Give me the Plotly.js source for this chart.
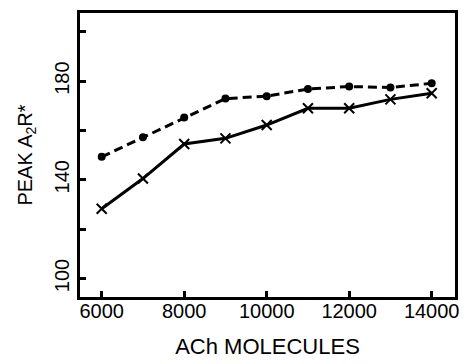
<!DOCTYPE html>
<html><head><meta charset="utf-8">
<script src="https://cdn.plot.ly/plotly-3.0.1.min.js"></script>
<style>html,body{margin:0;padding:0;background:#fff}#chart{width:463px;height:364px}</style>
</head><body><div id="chart"></div>
<script>
var achMolecules = [6000, 7000, 8000, 9000, 10000, 11000, 12000, 13000, 14000];
var dashedSeries = [149.3, 157.2, 165.2, 172.9, 173.9, 176.8, 177.8, 177.4, 179.1];
var solidSeries  = [128.3, 140.5, 154.5, 156.8, 162.2, 169.0, 169.0, 172.6, 175.1];
var yTickVals = [100, 120, 140, 160, 180, 200];
var yTickText = ['100', '', '140', '', '180', ''];
var xTickVals = [6000, 8000, 10000, 12000, 14000];
var xTickText = ['6000', '8000', '10000', '12000', '14000'];

var fam = 'Liberation Sans, Arial, sans-serif';
var traces = [
  {x: achMolecules, y: dashedSeries, mode: 'lines+markers', type: 'scatter',
   line: {color: '#000', width: 3, dash: '9px,5px'},
   marker: {symbol: 'circle', size: 8, color: '#000'}},
  {x: achMolecules, y: solidSeries, mode: 'lines+markers', type: 'scatter',
   line: {color: '#000', width: 3},
   marker: {symbol: 'x-thin-open', size: 10, color: '#000', line: {color: '#000', width: 2}}}
];
var layout = {
  width: 463, height: 364,
  margin: {l: 80, r: 8, t: 13, b: 67},
  paper_bgcolor: '#fff', plot_bgcolor: '#fff',
  showlegend: false,
  font: {family: fam, color: '#000', size: 20},
  xaxis: {
    range: [5474, 14565], tickvals: xTickVals, ticktext: xTickText, ticks: 'inside', ticklen: 6, tickwidth: 3,
    tickcolor: '#000', showline: true, linewidth: 3, linecolor: '#000', mirror: true,
    ticklabelstandoff: -6,
    showgrid: false, zeroline: false, tickfont: {size: 20, family: fam, color: '#000'},
    title: {text: 'ACh MOLECULES', font: {size: 22, family: fam, color: '#000'}, standoff: 18}
  },
  yaxis: {
    range: [92.5, 207.6], tickvals: yTickVals, ticktext: yTickText, ticks: 'inside', ticklen: 6, tickwidth: 3,
    tickcolor: '#000', showline: true, linewidth: 3, linecolor: '#000', mirror: true, tickangle: -90,
    showgrid: false, zeroline: false, tickfont: {size: 20, family: fam, color: '#000'},
    title: {text: 'PEAK A<sub>2</sub>R*', font: {size: 20, family: fam, color: '#000'}, standoff: 14}
  }
};
Plotly.newPlot('chart', traces, layout, {staticPlot: true, displayModeBar: false});
</script></body></html>
